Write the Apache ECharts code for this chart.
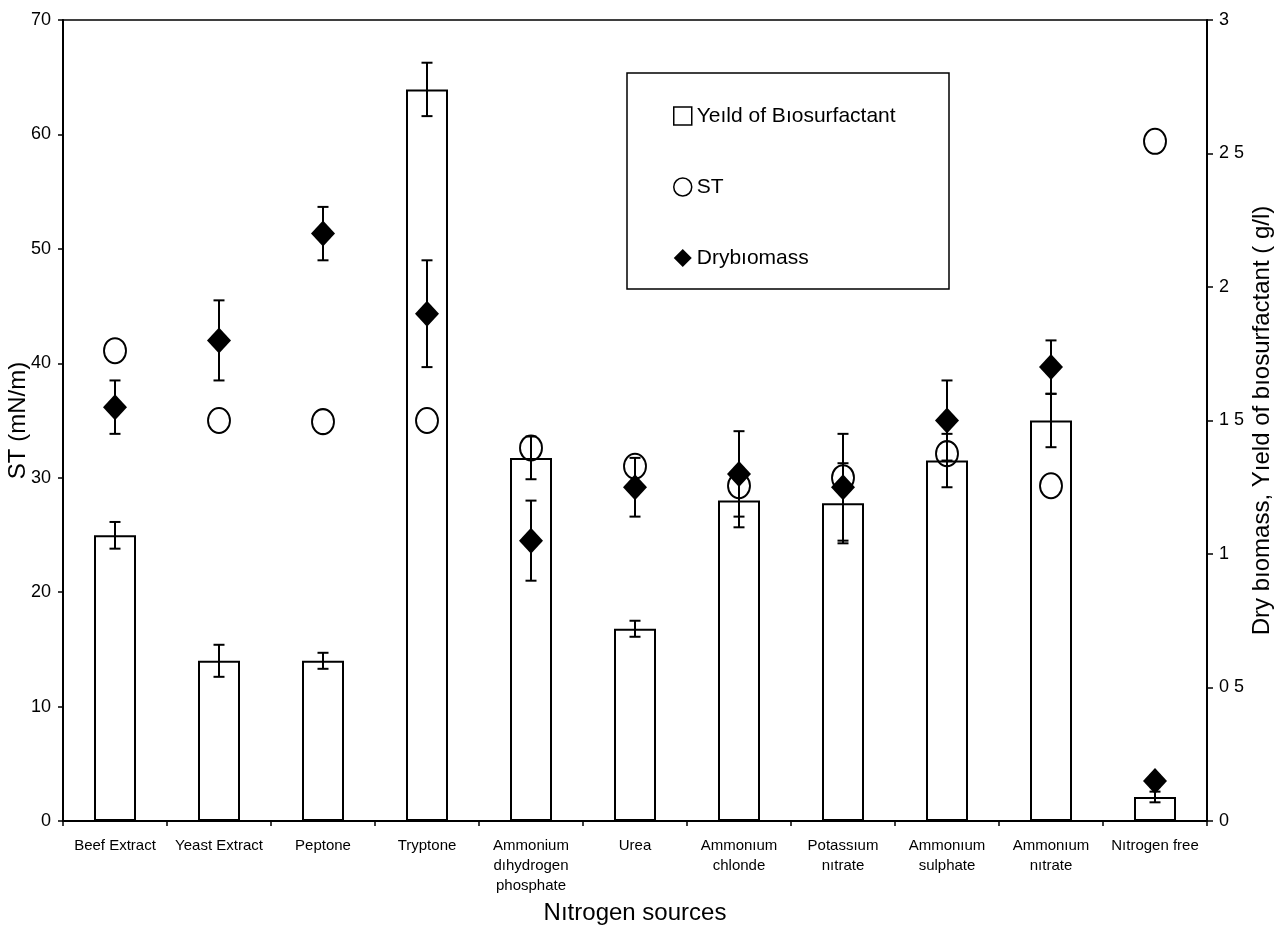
<!DOCTYPE html>
<html>
<head>
<meta charset="utf-8">
<script src="https://cdn.jsdelivr.net/npm/echarts@6/dist/echarts.min.js"></script>
<style>
  html, body { margin: 0; padding: 0; background: #fff; }
  #chart { width: 1277px; height: 938px; }
</style>
</head>
<body>
<div id="chart"></div>
<script>
// Nitrogen sources tested
const categories = [
  'Beef Extract', 'Yeast Extract', 'Peptone', 'Tryptone',
  'Ammonium\ndıhydrogen\nphosphate', 'Urea', 'Ammonıum\nchlonde',
  'Potassıum\nnıtrate', 'Ammonıum\nsulphate', 'Ammonıum\nnıtrate', 'Nıtrogen free'
];

// Yield of biosurfactant (g/l) and its error
const yieldValues = [1.07, 0.60, 0.60, 2.74, 1.36, 0.72, 1.20, 1.19, 1.35, 1.50, 0.09];
const yieldErrors = [0.05, 0.06, 0.03, 0.10, 0.08, 0.03, 0.10, 0.15, 0.10, 0.10, 0.02];

// Surface tension (mN/m)
const stValues = [41.1, 35.0, 34.9, 35.0, 32.6, 31.0, 29.3, 30.0, 32.1, 29.3, 59.4];

// Dry biomass (g/l) and its error
const biomassValues = [1.55, 1.80, 2.20, 1.90, 1.05, 1.25, 1.30, 1.25, 1.50, 1.70, 0.15];
const biomassErrors = [0.10, 0.15, 0.10, 0.20, 0.15, 0.11, 0.16, 0.20, 0.15, 0.10, 0.02];

// Axis tick labels
const leftTicks = [0, 10, 20, 30, 40, 50, 60, 70];
const rightTickLabels = { '0': '0', '0.5': '0 5', '1': '1', '1.5': '1 5', '2': '2', '2.5': '2 5', '3': '3' };

const FONT = '"Liberation Sans", Arial, sans-serif';

function errorData(values, errors) {
  return values.map((v, i) => [i, v, v - errors[i], v + errors[i]]);
}

function renderErrorBar(params, api) {
  const x = api.value(0);
  const lo = api.coord([x, api.value(2)]);
  const hi = api.coord([x, api.value(3)]);
  const half = 5.5;
  const style = { stroke: '#000', lineWidth: 2 };
  return {
    type: 'group',
    children: [
      { type: 'line', shape: { x1: hi[0], y1: hi[1], x2: lo[0], y2: lo[1] }, style },
      { type: 'line', shape: { x1: hi[0] - half, y1: hi[1], x2: hi[0] + half, y2: hi[1] }, style },
      { type: 'line', shape: { x1: lo[0] - half, y1: lo[1], x2: lo[0] + half, y2: lo[1] }, style }
    ]
  };
}

const chart = echarts.init(document.getElementById('chart'), null, { renderer: 'canvas' });

chart.setOption({
  backgroundColor: '#fff',
  animation: false,
  textStyle: { fontFamily: FONT, color: '#000' },
  grid: {
    left: 63, right: 70, top: 20, bottom: 117,
    containLabel: false,
    outerBoundsMode: 'none',
    show: true, borderColor: '#000', borderWidth: 1.5, backgroundColor: 'transparent'
  },
  legend: {
    orient: 'vertical',
    left: 668,
    top: 100,
    itemGap: 49,
    itemWidth: 18,
    itemHeight: 18,
    textStyle: { fontFamily: FONT, fontSize: 21, color: '#000', lineHeight: 22 },
    data: [
      { name: 'Yeıld of Bıosurfactant', icon: 'rect', itemStyle: { color: '#fff', borderColor: '#000', borderWidth: 1.5, opacity: 1 } },
      { name: 'ST', icon: 'circle', itemStyle: { color: '#fff', borderColor: '#000', borderWidth: 1.5, opacity: 1 } },
      { name: 'Drybıomass', icon: 'diamond', itemStyle: { color: '#000', borderWidth: 0, opacity: 1 } }
    ]
  },
  graphic: [
    {
      type: 'rect',
      shape: { x: 627, y: 73, width: 322, height: 216 },
      style: { fill: 'transparent', stroke: '#000', lineWidth: 1.5 },
      z: 1
    }
  ],
  xAxis: {
    type: 'category',
    data: categories,
    boundaryGap: true,
    name: 'Nıtrogen sources',
    nameLocation: 'middle',
    nameGap: 80,
    nameMoveOverlap: false,
    nameTextStyle: { fontFamily: FONT, fontSize: 24, color: '#000' },
    axisLine: { lineStyle: { color: '#000', width: 2 } },
    axisTick: { show: true, inside: false, length: 5, alignWithLabel: false, lineStyle: { color: '#000', width: 1.5 } },
    axisLabel: { fontFamily: FONT, fontSize: 15, color: '#000', lineHeight: 20, margin: 15, interval: 0 },
    splitLine: { show: false }
  },
  yAxis: [
    {
      type: 'value',
      min: leftTicks[0],
      max: leftTicks[leftTicks.length - 1],
      interval: 10,
      position: 'left',
      name: 'ST (mN/m)',
      nameLocation: 'middle',
      nameGap: 33,
      nameMoveOverlap: false,
      nameTextStyle: { fontFamily: FONT, fontSize: 24, color: '#000' },
      axisLine: { show: true, lineStyle: { color: '#000', width: 2 } },
      axisTick: { show: true, inside: false, length: 5, lineStyle: { color: '#000', width: 1.5 } },
      axisLabel: { fontFamily: FONT, fontSize: 18, color: '#000', margin: 12 },
      splitLine: { show: false }
    },
    {
      type: 'value',
      min: 0,
      max: 3,
      interval: 0.5,
      position: 'right',
      name: 'Dry bıomass, Yıeld of bıosurfactant ( g/l)',
      nameLocation: 'middle',
      nameGap: 43,
      nameRotate: 90,
      nameMoveOverlap: false,
      nameTextStyle: { fontFamily: FONT, fontSize: 24, color: '#000' },
      axisLine: { show: true, lineStyle: { color: '#000', width: 2 } },
      axisTick: { show: true, inside: false, length: 6, lineStyle: { color: '#000', width: 1.5 } },
      axisLabel: {
        fontFamily: FONT, fontSize: 18, color: '#000', margin: 12,
        formatter: v => rightTickLabels[String(v)] !== undefined ? rightTickLabels[String(v)] : String(v)
      },
      splitLine: { show: false }
    }
  ],
  series: [
    {
      name: 'Yeıld of Bıosurfactant',
      type: 'bar',
      yAxisIndex: 1,
      data: yieldValues,
      barWidth: 42,
      itemStyle: { color: '#fff', borderColor: '#000', borderWidth: 2, opacity: 1 },
      z: 2
    },
    {
      name: 'yield-error',
      type: 'custom',
      yAxisIndex: 1,
      data: errorData(yieldValues, yieldErrors),
      encode: { x: 0, y: [1, 2, 3] },
      renderItem: renderErrorBar,
      z: 3
    },
    {
      name: 'ST',
      type: 'scatter',
      yAxisIndex: 0,
      data: stValues,
      symbol: 'circle',
      symbolSize: [22, 25],
      itemStyle: { color: 'rgba(255,255,255,0)', borderColor: '#000', borderWidth: 2, opacity: 1 },
      z: 4
    },
    {
      name: 'Drybıomass',
      type: 'scatter',
      yAxisIndex: 1,
      data: biomassValues,
      symbol: 'diamond',
      symbolSize: [24, 26],
      itemStyle: { color: '#000', opacity: 1 },
      z: 5
    },
    {
      name: 'biomass-error',
      type: 'custom',
      yAxisIndex: 1,
      data: errorData(biomassValues, biomassErrors),
      encode: { x: 0, y: [1, 2, 3] },
      renderItem: renderErrorBar,
      z: 6
    }
  ]
});
</script>
</body>
</html>
